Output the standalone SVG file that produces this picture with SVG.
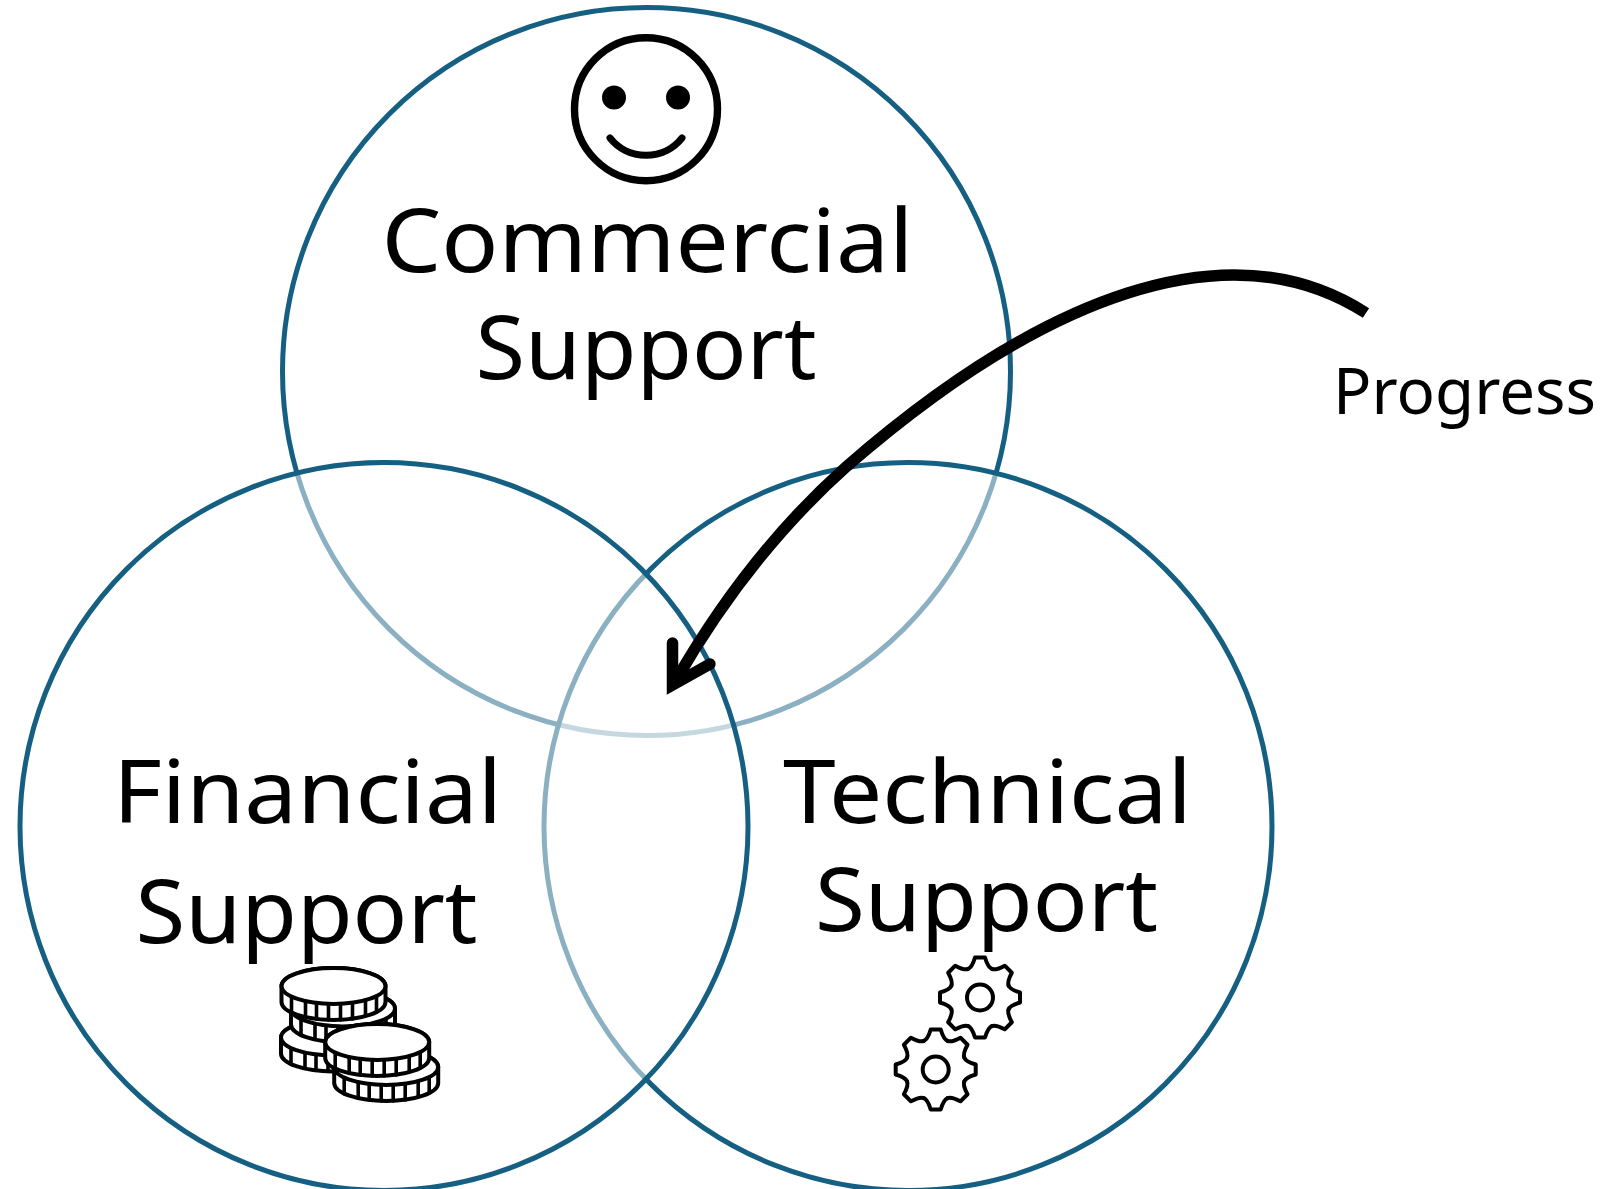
<svg xmlns="http://www.w3.org/2000/svg" width="1609" height="1189" viewBox="0 0 1609 1189">
<style>
.ring{fill:#fff;fill-opacity:.5;stroke:#156082;stroke-width:5}
.big{font-family:"Noto Sans","Liberation Sans",sans-serif;font-size:88px;fill:#000}
.small{font-family:"Noto Sans","Liberation Sans",sans-serif;font-size:64px;fill:#000}
.ink{fill:none;stroke:#000;stroke-linecap:round;stroke-linejoin:round}
.coin{fill:#fff;stroke:#000;stroke-width:4}
</style>
<defs>
<g id="coin">
<path class="coin" d="M-52 0A52 18 0 0 1 52 0V16A52 18 0 0 1-52 16Z"/>
<ellipse class="coin" rx="52" ry="18"/>
<path class="ink" stroke-width="3.6" d="M-42 11V27M-28 15V31M-17 17V33M-5 18V34M7 18V34M19 17V33M32 14V30M43 10V26"/>
</g>
<g id="gear">
<g class="ink" stroke-width="4">
<path id="tooth" d="M-11.9-28.6Q-8-30-5-40H5Q8-30 11.9-28.6"/>
<use href="#tooth" transform="rotate(45)"/>
<use href="#tooth" transform="rotate(90)"/>
<use href="#tooth" transform="rotate(135)"/>
<use href="#tooth" transform="rotate(180)"/>
<use href="#tooth" transform="rotate(225)"/>
<use href="#tooth" transform="rotate(270)"/>
<use href="#tooth" transform="rotate(315)"/>
<circle r="13"/>
</g>
</g>
</defs>
<rect width="1609" height="1189" fill="#fff"/>
<g id="commercial">
<circle class="ring" cx="646.5" cy="371.500" r="364"/>
<g id="smile">
<circle class="ink" cx="646" cy="109.200" r="71.500" stroke-width="7.400"/>
<circle cx="614" cy="97.500" r="12"/>
<circle cx="678" cy="97.500" r="12"/>
<path class="ink" stroke-width="7" d="M610 138A46 46 0 0 0 682 138"/>
</g>
<text class="big" x="381.500" y="272" textLength="532" lengthAdjust="spacingAndGlyphs">Commercial</text>
<text class="big" x="475.500" y="379" textLength="341" lengthAdjust="spacingAndGlyphs">Support</text>
</g>
<g id="technical">
<circle class="ring" cx="908" cy="826.500" r="364"/>
<text class="big" x="783" y="823" textLength="409" lengthAdjust="spacingAndGlyphs">Technical</text>
<text class="big" x="815" y="931" textLength="343" lengthAdjust="spacingAndGlyphs">Support</text>
<use href="#gear" x="980" y="997.500"/>
<use href="#gear" x="935.700" y="1069.500"/>
</g>
<g id="financial">
<circle class="ring" cx="384" cy="826.500" r="364"/>
<text class="big" x="113" y="823" textLength="389" lengthAdjust="spacingAndGlyphs">Financial</text>
<text class="big" x="135.500" y="942.500" textLength="342" lengthAdjust="spacingAndGlyphs">Support</text>
<use href="#coin" x="333" y="1037.500"/>
<use href="#coin" x="343" y="1008.500"/>
<use href="#coin" x="333.500" y="986"/>
<use href="#coin" x="386.200" y="1067"/>
<use href="#coin" x="377.200" y="1042"/>
</g>
<g id="connectors">
<path fill="none" stroke="#000" stroke-width="11.500" d="M1366 313C1228 224 1040 298 846 467C780 526 722 600 675 682"/>
<path fill="none" stroke="#000" stroke-width="11.500" stroke-linecap="round" stroke-linejoin="miter" stroke-miterlimit="10" d="M672.500 643L672.500 685L710 664"/>
</g>
<g id="progress">
<text class="small" x="1333" y="414" textLength="263" lengthAdjust="spacingAndGlyphs">Progress</text>
</g>
</svg>
